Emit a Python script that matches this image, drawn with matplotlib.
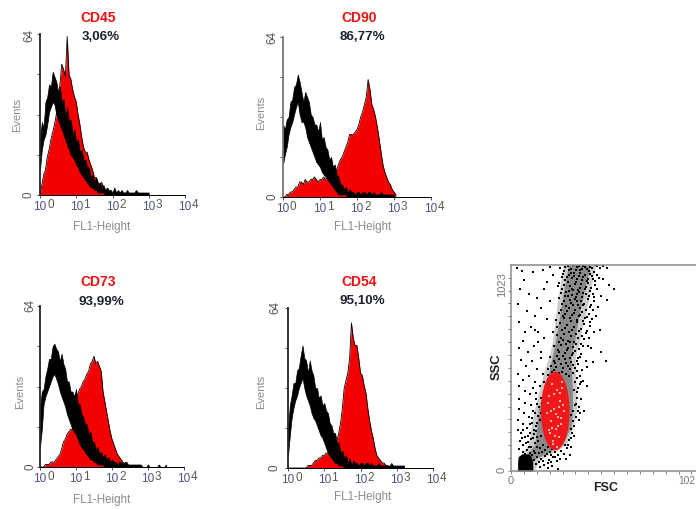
import numpy as np
import matplotlib
matplotlib.use("Agg")
import matplotlib.pyplot as plt
from matplotlib.patches import Ellipse

plt.rcParams['font.family'] = ['Liberation Sans', 'DejaVu Sans']

W, H = 696, 509
LOG_STEP = 0.05   # histogram channels, in decades

names = ["CD45", "CD90", "CD73", "CD54"]
percents = ["3,06%", "86,77%", "93,99%", "95,10%"]
decade_ticks = [1, 10, 100, 1000, 10000]
decade_powers = ["0", "1", "2", "3", "4"]

cd45_red = [0,4,8,10,15,18,22,25,28,32,39,44,52,50,47,63,48,46,42,39,37,32,28,23,19,17,17,14,12,10,7,7,5,4,5,3,2,1,1,1]
cd45_hi = [22,29,27,37,39,44,43,49,47,45,41,43,37,38,31,35,29,30,24,26,21,22,17,18,14,14,11,11,7,8,5,7,4,5,3,4,2,3,2,2,1,3,1,2,1,2,1,1,2,1,1,1,1,2,1,1,1,1,1,1,1]
cd45_lo = [10,18,22,24,28,33,35,37,36,32,30,28,26,24,22,20,18,16,15,14,12,11,9,8,7,6,5,4,3,3,2,2,1,1,1,1,0]

cd90_red = [0,0,1,1,2,2,3,4,4,6,6,5,7,6,6,7,7,8,7,6,7,7,8,7,8,8,9,8,8,11,13,15,16,18,20,22,25,25,25,26,27,29,32,34,37,40,47,43,37,35,32,28,23,18,13,10,8,6,5,3,2,1]
cd90_hi = [29,27,31,32,38,39,44,45,49,46,42,38,42,40,38,33,32,29,29,26,30,23,24,20,19,15,16,12,13,9,8,5,5,3,4,2,3,2,2,1,2,2,1,2,2,1,2,2,1,2,1,1,1,2,1,1,1,1,1,1,1]
cd90_lo = [13,17,20,25,28,30,33,36,38,33,30,30,28,24,22,20,18,16,14,13,12,10,9,8,7,6,5,4,3,2,1,1,1,1,1,0]

cd73_red = [0,0,0,1,1,1,2,2,2,3,4,5,7,10,11,13,14,15,15,20,27,29,31,32,34,35,37,38,41,42,44,41,42,40,38,30,26,22,18,14,11,9,7,5,4,3,2,1,1]
cd73_hi = [23,30,31,36,39,43,43,48,49,47,46,42,45,41,39,34,34,30,30,28,31,25,25,21,20,17,17,13,14,10,10,7,8,5,6,4,5,3,4,2,3,2,2,1,2,2,1,2,2,1,1,1,1,1,1,1,1,0,0,0,1,0,0,0,0,0,1,0,0,0,1]
cd73_lo = [8,15,25,28,30,32,34,36,37,35,33,30,28,26,24,21,19,17,15,14,13,11,9,8,7,6,5,4,3,3,2,2,1,1,1,1,0]

cd54_red = [0,0,0,0,0,0,0,0,0,0,0,1,1,1,2,3,3,4,4,5,5,6,6,7,7,8,9,11,14,18,24,32,35,38,44,58,52,49,49,44,38,37,33,30,24,19,15,12,8,5,4,3,2,2,1,1]
cd54_hi = [15,25,29,34,34,39,40,45,49,44,43,38,43,39,37,32,32,28,29,25,26,23,22,18,17,14,14,10,10,6,7,4,5,2,4,1,3,2,2,1,2,2,1,2,2,1,2,1,1,1,2,1,1,1,1,1,1,2,1,1,1,1,1,1,1]
cd54_lo = [5,13,20,24,27,29,32,34,36,32,29,27,25,22,20,19,17,15,13,12,10,8,6,5,4,3,2,2,1,1,1,0]

red_series = [cd45_red, cd90_red, cd73_red, cd54_red]
hi_series = [cd45_hi, cd90_hi, cd73_hi, cd54_hi]
lo_series = [cd45_lo, cd90_lo, cd73_lo, cd54_lo]

# density of the FSC/SSC cloud: SSC level, left and right FSC edge
band_ssc = [0, 60, 130, 220, 300, 400, 500, 570, 640, 720, 800, 900, 1023]
band_left = [30, 35, 85, 100, 115, 140, 165, 190, 205, 215, 225, 240, 260]
band_right = [110, 150, 275, 310, 325, 325, 320, 320, 340, 355, 375, 395, 420]
core_ssc = [60, 130, 220, 300, 400, 500, 570, 640, 760, 900, 1023]
core_left = [60, 118, 128, 135, 160, 190, 205, 220, 240, 262, 285]
core_right = [120, 255, 298, 305, 305, 300, 298, 315, 335, 365, 395]
blob_ssc = [0, 45, 72, 85]
blob_left = [33, 33, 36, 55]
blob_right = [108, 108, 100, 90]

gate_fsc, gate_ssc, gate_w, gate_h = 220, 298, 142, 390

cloud_upper = [(245,1010),(262,995),(281,1018),(298,1003),(315,985),(330,1012),(344,996),(360,1020),(378,1001),(392,1014),(410,990),(428,1017),(442,1006),(458,1019),(476,1009),
(252,965),(270,948),(288,972),(305,958),(322,940),(338,968),(351,950),(367,975),(384,955),(401,968),(418,945),(436,960),(458,955),(488,925),(510,905),
(232,920),(255,905),(274,890),(293,918),(310,897),(326,880),(343,908),(359,885),(374,915),(391,893),(406,878),(425,905),(445,870),(478,850),(240,860),
(262,845),(281,868),(298,832),(317,856),(333,822),(349,845),(365,830),(382,855),(398,825),(414,842),(432,815),(250,800),(268,782),(286,810),(302,775),
(320,798),(336,770),(352,790),(368,760),(385,780),(402,755),(420,770),(225,750),(244,735),(262,758),(279,725),(296,745),(313,715),(330,738),(346,705),
(361,728),(378,695),(394,718),(412,690),(440,700),(210,690),(228,675),(246,660),(263,682),(281,648),(299,672),(315,640),(331,662),(347,632),(364,655),
(380,622),(398,610),(445,590),(470,545),(215,620),(232,600),(250,625),(267,588),(285,610),(302,575),(318,598),(334,560),(350,580),(372,548),(405,540),
(195,565),(212,545),(230,572),(248,530),(266,555),(283,520),(300,542),(317,510),(335,530),(352,500),(375,518),(185,505),(205,490),(225,515),(345,470),
(360,445),(375,420),(342,430),(330,390),(350,360),(338,320),(362,300),(120,700),(135,640),(150,590),
(268,1012),(290,1000),(307,1021),(322,999),(337,1016),(352,1004),(369,1013),(385,992),(401,1006),(419,1021),(258,978),(276,962),(296,985),(313,970),(329,952),
(345,982),(358,962),(375,944),(392,978),(409,952),(427,975),(240,935),(264,925),(283,938),(301,905),(318,930),(334,900),(350,928),(366,902),(382,934),
(398,908),(415,925),(246,885),(268,868),(288,895),(305,872),(322,862),(339,888),(354,866),(370,880),(388,870),(410,862),(255,830),(274,818),(292,850),
(309,825),(326,842),(341,808),(357,822),(374,802),(390,815),(407,800),(238,785),(258,768),(276,796),(294,760),(311,785),(328,752),(344,776),(360,745),
(376,765),(392,740),(228,715),(252,700),(270,712),(288,688),(305,702),(322,680),(338,695),(354,672),(370,684),(386,662),(236,640),(256,650),(272,630),
(292,640),(308,618),(324,630),(340,606),(356,620),(240,590),(258,572),(276,600),(293,560),(310,585),(326,545),(342,568),(220,535),(238,555),(256,510),
(274,538),(292,505),(308,525),(326,495),(198,520),(216,500),(236,488),(254,492),(272,480),(290,470),(310,485),(330,462),(348,440),(185,475),(205,455),
(320,440),(335,410),(315,400),(328,365),(318,330),(332,300)]
cloud_left = [(30,1010),(55,995),(110,990),(65,950),(160,1000),(195,1015),(210,975),(178,940),(45,905),(90,880),(130,860),(165,905),(195,845),
(35,830),(80,795),(120,770),(150,810),(180,755),(42,740),(70,690),(100,715),(60,645),(135,690),(165,660),(40,610),(85,590),(115,620),(150,560),
(50,550),(75,520),(105,545),(130,505),(160,480),(35,480),(60,450),(90,470),(120,440),(145,420),(38,420),(68,395),(95,380),(125,385),(42,360),
(72,340),(100,330),(128,335),(148,365),(40,310),(66,290),(88,270),(110,300),(132,275),(35,255),(58,235),(80,215),(102,240),(122,225),(142,255),
(108,410),(125,360),(140,320),(118,290),(105,262),(95,235),(115,205),(130,240),(150,290),(155,340),(172,400),(165,440),(180,440)]
cloud_low = [(36,205),(52,188),(70,170),(92,190),(110,165),(125,200),(45,150),(62,130),(85,145),(100,120),(118,140),(135,150),(150,175),(40,110),(58,95),
(78,105),(95,90),(112,100),(128,118),(145,115),(160,130),(170,105),(185,120),(195,95),(205,110),(220,92),(235,80),(250,100),(265,85),(280,115),
(130,70),(150,62),(170,75),(190,55),(210,68),(230,50),(125,35),(145,20),(165,30),(185,15),(205,25),(235,12),(115,55),(290,155),(305,190),(315,225),
(322,270),(336,255),(310,300),(325,335),(300,120),(345,290),(295,80),(275,60),
(55,165),(75,140),(88,118),(72,85),(105,78),(120,90),(140,90),(155,95),(178,85),(200,78),(218,70),(245,62),(140,45),(160,50),(182,38),(200,45),
(300,165),(298,210),(308,250),(300,280),(312,175),(285,130),(270,130),(60,205),(82,175),(98,160),(115,185),(130,170)]

cloud_fsc = [p[0] for p in cloud_upper + cloud_left + cloud_low]
cloud_ssc = [p[1] for p in cloud_upper + cloud_left + cloud_low]
gate_specks_fsc = [205,230,190,245,215,260,180,235,200,250,222,195,240,210,265,228,185,255,212,238,198,225,248,205,232,218,190,243,208,255]
gate_specks_ssc = [430,400,370,350,310,330,290,270,250,235,210,190,170,150,300,120,340,440,380,320,300,285,265,215,225,175,205,385,135,410]

# pixel layout: left, right, top, bottom of each histogram frame
frames = [(40,185,34,195), (283,431,37,197), (40,184,306,467), (288,433,308,468)]
title_xy = [(98,18),(359,18),(98,282),(359,282)]
pct_xy = [(101,37),(362,37),(101,302),(362,301)]
events_xy = [(17,115),(261,113),(20,392),(261,392)]
xlabel_xy = [(102,227),(363,227),(102,500),(363,497)]
ymax_y = [35,37,305,307]
ylab_x = [29,272,30,275]


def fx(px): return px / W
def fy(py): return 1 - py / H

fig = plt.figure(figsize=(W / 100, H / 100), dpi=100, facecolor="white")
LABEL = "#8a8a8a"
TICK = "#48557f"

for k in range(4):
    l, r, t, b = frames[k]
    ax = fig.add_axes([fx(l), fy(b), (r - l) / W, (b - t) / H])
    x_red = 10 ** (np.arange(len(red_series[k])) * LOG_STEP)
    ax.fill_between(x_red, red_series[k], color="#f50000", lw=0)
    ax.plot(x_red, red_series[k], color="black", lw=0.6)
    hi = np.array(hi_series[k], float)
    lo = np.zeros_like(hi)
    lo[:len(lo_series[k])] = lo_series[k]
    x_blk = 10 ** (np.arange(len(hi)) * LOG_STEP)
    ax.fill_between(x_blk, lo, hi, color="black", lw=0.5)
    ax.set_xscale("log")
    ax.set_xlim(1, 10000)
    ax.set_ylim(0, 64)
    ax.set_xticks(decade_ticks)
    ax.set_xticklabels([])
    ax.set_yticks([0, 16, 32, 48, 64])
    ax.set_yticklabels([])
    ax.tick_params(axis="x", which="major", length=2, width=0.6, color="#333333")
    ax.tick_params(axis="x", which="minor", length=1, width=0.4, color="#555555")
    ax.tick_params(axis="y", length=2, width=0.6, color="#333333")
    for s in ("top", "right"):
        ax.spines[s].set_visible(False)
    ax.spines["left"].set_linewidth(1.3)
    ax.spines["left"].set_color("#222222" if k != 1 else "#777777")
    ax.spines["bottom"].set_linewidth(0.7)
    for tick, power in zip(decade_ticks, decade_powers):
        ax.annotate("10", (tick, 0), xycoords=("data", "axes fraction"),
                    xytext=(0, -15), textcoords="offset pixels", ha="center", va="baseline",
                    fontsize=8.5, color=TICK)
        ax.annotate(power, (tick, 0), xycoords=("data", "axes fraction"),
                    xytext=(7, -13), textcoords="offset pixels", ha="left", va="baseline",
                    fontsize=8.5, color="#5a5a4a")
    fig.text(fx(title_xy[k][0]), fy(title_xy[k][1]), names[k], color="#f01010",
             fontsize=10, fontweight="bold", ha="center", va="center")
    fig.text(fx(pct_xy[k][0]), fy(pct_xy[k][1]), percents[k], color="#1a2030",
             fontsize=9.6, fontweight="bold", ha="center", va="center")
    fig.text(fx(events_xy[k][0]), fy(events_xy[k][1]), "Events", color=LABEL,
             fontsize=8, rotation=90, ha="center", va="center")
    fig.text(fx(xlabel_xy[k][0]), fy(xlabel_xy[k][1]), "FL1-Height", color=LABEL,
             fontsize=8.3, ha="center", va="center")
    fig.text(fx(ylab_x[k]), fy(ymax_y[k]), "64", color="#555555",
             fontsize=8.4, rotation=90, ha="center", va="center")
    fig.text(fx(ylab_x[k]), fy(b), "0", color="#555555",
             fontsize=8.4, rotation=90, ha="center", va="center")

# FSC / SSC dot plot; its frame runs past the right edge of the picture
l, r, t, b = 511, 717, 265, 471
ax = fig.add_axes([fx(l), fy(b), (r - l) / W, (b - t) / H])
ax.fill_betweenx(band_ssc, band_left, band_right, color="#8a8a8a", alpha=0.45, lw=0)
ax.fill_betweenx(core_ssc, core_left, core_right, color="#555555", alpha=0.55, lw=0)
ax.fill_betweenx(blob_ssc, blob_left, blob_right, color="black", lw=0)
ax.scatter(cloud_fsc, cloud_ssc, s=1.0, color="black", marker="s", lw=0)
ax.add_patch(Ellipse((gate_fsc, gate_ssc), gate_w, gate_h, facecolor="#f01818", edgecolor="none"))
ax.scatter(gate_specks_fsc, gate_specks_ssc, s=0.7, color="#ffb0b0", marker="s", lw=0)
ax.set_xlim(0, 1023)
ax.set_ylim(0, 1023)
ax.set_xticks(np.arange(0, 1024, 64))
ax.set_yticks(np.arange(0, 1024, 64))
ax.set_xticklabels([])
ax.set_yticklabels([])
ax.tick_params(length=2, width=0.5, color="#555555")
for s in ("top", "left", "bottom"):
    ax.spines[s].set_color("#8c8c8c")
    ax.spines[s].set_linewidth(1.1)
ax.spines["right"].set_visible(False)
fig.text(fx(511), fy(481), "0", color="#777777", fontsize=8, ha="center", va="center")
fig.text(fx(678), fy(481), "102", color="#777777", fontsize=7.4, ha="left", va="center")
fig.text(fx(502), fy(470), "0", color="#777777", fontsize=8, rotation=90, ha="center", va="center")
fig.text(fx(502), fy(285), "1023", color="#777777", fontsize=8, rotation=90, ha="center", va="center")
fig.text(fx(497), fy(367), "SSC", color="#222222", fontsize=9.4, fontweight="bold", rotation=90, ha="center", va="center")
fig.text(fx(606), fy(488), "FSC", color="#222222", fontsize=9, fontweight="bold", ha="center", va="center")

fig.savefig("out.png", dpi=100, facecolor="white")
